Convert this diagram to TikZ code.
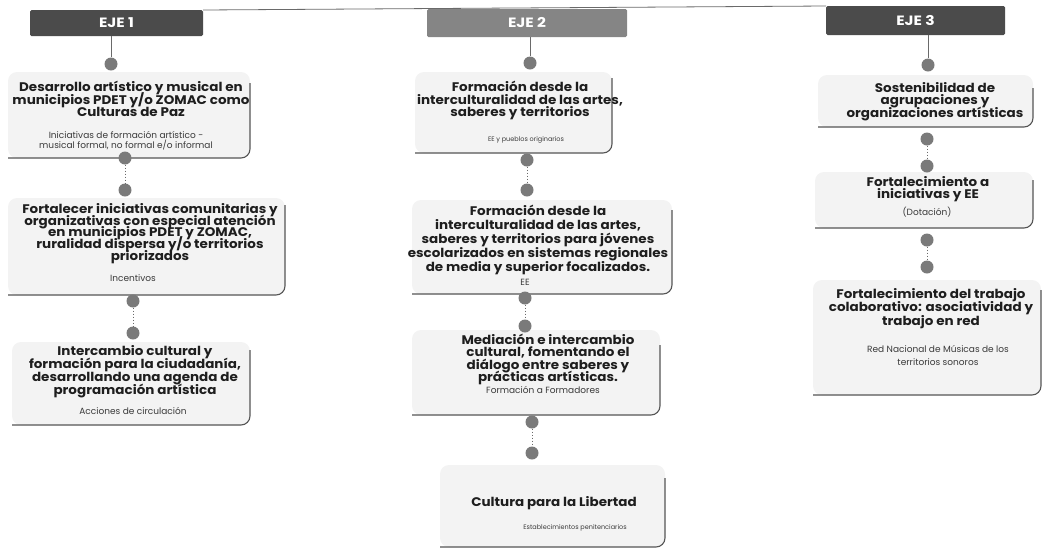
\documentclass[tikz,border=0pt]{standalone}
\usepackage{fontspec}
\setmainfont{Poppins}
\newfontfamily\widefont[FakeStretch=1.08]{Poppins}
\newfontfamily\ejefont[FakeStretch=1.15]{Poppins}
\definecolor{ejeA}{HTML}{4B4B4B}
\definecolor{ejeB}{HTML}{858585}
\definecolor{dotcol}{HTML}{7A7A7A}
\definecolor{linecol}{HTML}{6A6A6A}
\definecolor{edgecol}{HTML}{555555}
\definecolor{titlecol}{HTML}{1E1E1E}
\definecolor{subcol}{HTML}{3A3A3A}
\definecolor{cardbg}{HTML}{F3F3F3}
\newcommand\cardbox[5]{%
  \fill[cardbg, rounded corners=9pt] (#1,#2) rectangle (#3,#4);
  \draw[cardedge] (#3,#5) -- (#3,#4) -- (#1,#4);}
\newcommand\ttlfont[1]{\widefont\bfseries\fontsize{12.5}{#1}\selectfont\lineskiplimit=-100pt\relax}
\begin{document}
\begin{tikzpicture}[x=1pt,y=-1pt,
  ejebox/.style={text=white, font=\ejefont\bfseries\fontsize{13.5}{15}\selectfont, inner sep=0pt, rounded corners=1.5pt},
  dotnode/.style={circle, fill=dotcol, minimum size=13pt, inner sep=0pt},
  ttl/.style={font=\ttlfont{12.5}, align=center, inner sep=0pt, text=titlecol, anchor=north},
  sub/.style={font=\fontsize{9}{10.5}\selectfont, align=center, inner sep=0pt, text=subcol, anchor=north},
  subsmall/.style={font=\fontsize{6.5}{8}\selectfont, align=center, inner sep=0pt, text=subcol, anchor=north},
  cardedge/.style={draw=edgecol, line width=1.1pt, rounded corners=9pt},
  link/.style={draw=linecol, line width=0.8pt},
  dotlink/.style={draw=linecol, line width=1pt, dotted}]
\useasboundingbox (0,0) rectangle (1042,550);

% top line
\coordinate (topL) at (203,10);
\coordinate (topR) at (826,6);
\draw[link] (topL) -- (topR);

% EJE boxes
\node[ejebox, fill=ejeA, minimum width=173pt, minimum height=26pt] (eje1) at (116.5,23) {EJE 1};
\node[ejebox, fill=ejeB, minimum width=200pt, minimum height=28pt] (eje2) at (527,23) {EJE 2};
\node[ejebox, fill=ejeA, minimum width=179pt, minimum height=29pt] (eje3) at (915.5,20.5) {EJE 3};

% cards
\cardbox{8}{72}{250}{158}{83}
\cardbox{8}{198}{285}{295}{205}
\cardbox{12}{342}{250}{425}{350}
\cardbox{415}{72}{612}{153}{78}
\cardbox{412}{200}{672}{294}{210}
\cardbox{412}{330}{660}{415}{345}
\cardbox{440}{465}{665}{547}{478}
\cardbox{818}{75}{1033}{127}{88}
\cardbox{815}{172}{1033}{228}{180}
\cardbox{813}{280}{1041}{395}{290}

% column 1
\node[dotnode] (d1) at (111,64) {};
\node[dotnode] (d2) at (125,158) {};
\node[dotnode] (d3) at (125,190) {};
\node[dotnode] (d4) at (133,301) {};
\node[dotnode] (d5) at (133,333) {};
% column 2
\node[dotnode] (e1) at (530,63) {};
\node[dotnode] (e2) at (527,160) {};
\node[dotnode] (e3) at (527,190) {};
\node[dotnode] (e4) at (525,298) {};
\node[dotnode] (e5) at (525,326) {};
\node[dotnode] (e6) at (532,422) {};
\node[dotnode] (e7) at (532,453) {};
% column 3
\node[dotnode] (f1) at (928,65) {};
\node[dotnode] (f2) at (927,139) {};
\node[dotnode] (f3) at (927,166) {};
\node[dotnode] (f4) at (927,240) {};
\node[dotnode] (f5) at (927,267) {};

\draw[link] (eje1.south -| d1) -- (d1);
\draw[link] (eje2.south -| e1) -- (e1);
\draw[link] (eje3.south -| f1) -- (f1);
\draw[dotlink] (d2) -- (d3);
\draw[dotlink] (d4) -- (d5);
\draw[dotlink] (e2) -- (e3);
\draw[dotlink] (e4) -- (e5);
\draw[dotlink] (e6) -- (e7);
\draw[dotlink] (f2) -- (f3);
\draw[dotlink] (f4) -- (f5);

% texts column 1
\node[ttl] (t1) at (131,81) {Desarrollo artístico y musical en\\municipios PDET y/o ZOMAC como\\Culturas de Paz};
\node[sub] (s1) at (126,131) {Iniciativas de formación artístico -\\musical formal, no formal e/o informal};
\node[ttl, font=\ttlfont{11.8}] (t2) at (150,203) {Fortalecer iniciativas comunitarias y\\organizativas con especial atención\\en municipios PDET y ZOMAC,\\ruralidad dispersa y/o territorios\\priorizados};
\node[sub] (s2) at (133,274) {Incentivos};
\node[ttl, font=\ttlfont{13.2}] (t3) at (135,345) {Intercambio cultural y\\formación para la ciudadanía,\\desarrollando una agenda de\\programación artística};
\node[sub] (s3) at (133,407) {Acciones de circulación};

% texts column 2
\node[ttl] (t4) at (520,81) {Formación desde la\\interculturalidad de las artes,\\saberes y territorios};
\node[subsmall] (s4) at (526,136) {EE y pueblos originarios};
\node[ttl, font=\ttlfont{14}] (t5) at (538,205) {Formación desde la\\interculturalidad de las artes,\\saberes y territorios para jóvenes\\escolarizados en sistemas regionales\\de media y superior focalizados.};
\node[sub] (s5) at (525,279) {EE};
\node[ttl, font=\ttlfont{12.2}] (t6) at (548,334) {Mediación e intercambio\\cultural, fomentando el\\diálogo entre saberes y\\prácticas artísticas.};
\node[sub] (s6) at (543,386) {Formación a Formadores};
\node[ttl] (t7) at (554,496) {Cultura para la Libertad};
\node[subsmall] (s7) at (575,524) {Establecimientos penitenciarios};

% texts column 3
\node[ttl] (t8) at (935,82) {Sostenibilidad de\\agrupaciones y\\organizaciones artísticas};
\node[ttl] (t9) at (928,176) {Fortalecimiento a\\iniciativas y EE};
\node[sub] (s9) at (927,207) {(Dotación)};
\node[ttl, font=\ttlfont{13.5}] (t10) at (931,288) {Fortalecimiento del trabajo\\colaborativo: asociatividad y\\trabajo en red};
\node[sub, font=\fontsize{9}{13}\selectfont] (s10) at (938,345) {Red Nacional de Músicas de los\\territorios sonoros};
\end{tikzpicture}
\end{document}
